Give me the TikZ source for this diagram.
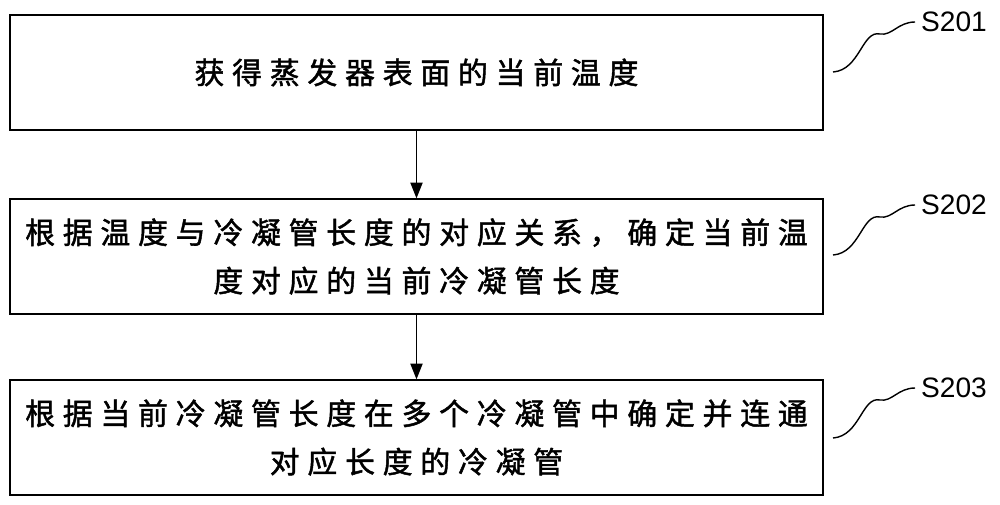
\documentclass[tikz,border=0pt]{standalone}
\usepackage{fontspec}
\setmainfont{Liberation Sans}
\newfontfamily\cjk[LetterSpace=26,FakeBold=1.5]{Noto Sans CJK SC}
\usetikzlibrary{arrows.meta}
\begin{document}
\begin{tikzpicture}[x=0.02cm,y=-0.02cm,
  box/.style={draw,line width=0.8pt,minimum width=16.26cm,minimum height=2.3cm,align=center,font=\cjk\fontsize{17}{27.5}\selectfont,inner sep=0pt},
  lab/.style={font=\fontsize{16}{18}\selectfont,anchor=west},
  arr/.style={-{Triangle[length=9pt,width=7pt]},line width=0.8pt},
  wave/.style={line width=0.8pt}]
\useasboundingbox (0,0) rectangle (1000,504);
\node[box] (b1) at (416.5,72.5) {获得蒸发器表面的当前温度};
\node[box] (b2) at (416.5,256.5) {根据温度与冷凝管长度的对应关系，确定当前温\\度对应的当前冷凝管长度};
\node[box] (b3) at (416.5,437.5) {根据当前冷凝管长度在多个冷凝管中确定并连通\\对应长度的冷凝管};
\draw[arr] (b1.south) -- (b2.north);
\draw[arr] (b2.south) -- (b3.north);
\foreach \i/\y/\t in {1/22/S201,2/205/S202,3/388/S203}{
  \node[lab] (s\i) at (915,\y) {\t};
  \draw[wave] (833,\y+50) .. controls (860,\y+48) and (862,\y+8) .. (880,\y+12)
     .. controls (892,\y+14) and (898,\y) .. (s\i.west);
}
\end{tikzpicture}
\end{document}
